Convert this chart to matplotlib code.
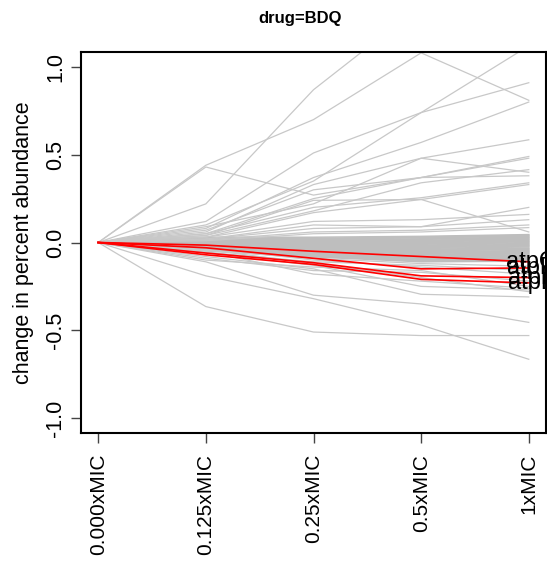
import matplotlib
matplotlib.use("Agg")
import matplotlib.pyplot as plt

plt.rcParams['font.family'] = ['Liberation Sans', 'DejaVu Sans']

categories = ["0.000xMIC", "0.125xMIC", "0.25xMIC", "0.5xMIC", "1xMIC"]
title = "drug=BDQ"
ylabel = "change in percent abundance"
yticks = [-1.0, -0.5, 0.0, 0.5, 1.0]

# grey lines: values at 0.125, 0.25, 0.5, 1 xMIC (all start at 0)
upper_lines = [
    [0.22, 0.87, 1.35, 1.50],
    [0.44, 0.70, 1.08, 0.81],
    [0.43, 0.27, 0.37, 0.38],
    [0.12, 0.51, 0.74, 0.91],
    [0.10, 0.35, 0.74, 1.12],
    [0.08, 0.37, 0.57, 0.80],
    [0.06, 0.33, 0.48, 0.585],
    [0.09, 0.22, 0.48, 0.40],
    [0.05, 0.25, 0.37, 0.49],
    [0.07, 0.30, 0.37, 0.48],
    [0.04, 0.18, 0.34, 0.415],
    [0.05, 0.20, 0.255, 0.34],
    [0.03, 0.17, 0.245, 0.33],
    [0.04, 0.24, 0.245, 0.06],
    [0.02, 0.10, 0.09, 0.20],
    [0.03, 0.12, 0.13, 0.16],
    [0.02, 0.08, 0.09, 0.13],
    [0.015, 0.06, 0.07, 0.10],
    [0.01, 0.05, 0.06, 0.085],
]
lower_lines = [
    [-0.365, -0.51, -0.53, -0.53],
    [-0.19, -0.32, -0.47, -0.665],
    [-0.11, -0.30, -0.35, -0.455],
    [-0.08, -0.15, -0.295, -0.31],
    [-0.06, -0.13, -0.25, -0.27],
    [-0.05, -0.18, -0.22, -0.26],
    [-0.04, -0.12, -0.20, -0.28],
    [-0.09, -0.16, -0.17, -0.22],
    [-0.03, -0.10, -0.14, -0.18],
    [-0.10, -0.14, -0.16, -0.25],
    [-0.045, -0.09, -0.12, -0.135],
    [-0.055, -0.11, -0.13, -0.16],
]
band_lines = [
    [0.030, 0.030, 0.035, 0.045],
    [0.026, 0.024, 0.031, 0.041],
    [0.022, 0.019, 0.027, 0.036],
    [0.019, 0.015, 0.021, 0.031],
    [0.016, 0.012, 0.018, 0.027],
    [0.013, 0.008, 0.012, 0.022],
    [0.010, 0.004, 0.008, 0.018],
    [0.007, 0.001, 0.004, 0.013],
    [0.005, -0.003, -0.001, 0.008],
    [0.002, -0.006, -0.006, 0.004],
    [0.000, -0.010, -0.010, -0.001],
    [-0.003, -0.013, -0.015, -0.006],
    [-0.005, -0.017, -0.020, -0.011],
    [-0.008, -0.020, -0.024, -0.016],
    [-0.010, -0.024, -0.029, -0.020],
    [-0.012, -0.027, -0.034, -0.025],
    [-0.015, -0.030, -0.039, -0.031],
    [-0.017, -0.034, -0.043, -0.036],
    [-0.020, -0.037, -0.048, -0.040],
    [-0.022, -0.041, -0.053, -0.046],
    [-0.024, -0.044, -0.058, -0.050],
    [-0.027, -0.047, -0.062, -0.055],
    [-0.029, -0.051, -0.067, -0.060],
    [-0.031, -0.054, -0.072, -0.065],
    [-0.034, -0.058, -0.077, -0.071],
    [-0.036, -0.061, -0.082, -0.075],
    [-0.038, -0.064, -0.086, -0.080],
    [-0.040, -0.068, -0.091, -0.085],
    [-0.042, -0.071, -0.096, -0.090],
    [-0.044, -0.074, -0.101, -0.096],
    [-0.046, -0.078, -0.106, -0.101],
    [-0.048, -0.082, -0.110, -0.106],
]
red_labels = ["atpG", "atpD", "atpF", "atpB"]
red_lines = [
    [-0.015, -0.05, -0.08, -0.11],
    [-0.03, -0.09, -0.15, -0.145],
    [-0.06, -0.115, -0.19, -0.20],
    [-0.07, -0.125, -0.21, -0.23],
]

fig = plt.figure(figsize=(5.47, 5.63), dpi=100)
ax = fig.add_axes([81/547, 130/563, 465/547, 381/563])
x = list(range(1, len(categories) + 1))

band_grey = "#BEBEBE"
line_grey = "#C8C8C8"
for vals in band_lines:
    ax.plot(x, [0.0] + vals, color=band_grey, lw=1.1)
for vals in upper_lines + lower_lines:
    ax.plot(x, [0.0] + vals, color=line_grey, lw=0.9)
for vals in red_lines:
    ax.plot(x, [0.0] + vals, color="#FF0000", lw=1.2)
for lab, vals in zip(red_labels, red_lines):
    ax.text(x[-1] + 0.03, vals[-1], lab, ha='center', va='center',
            fontsize=17, clip_on=False)

ax.set_xlim(0.84, 5.16)
ax.set_ylim(-1.085, 1.085)
ax.set_xticks(x)
ax.set_xticklabels(categories, rotation=90, fontsize=15)
ax.set_yticks(yticks)
ax.set_yticklabels([f"{v:.1f}" for v in yticks], rotation=90, va='center',
                   fontsize=15.5)
ax.tick_params(axis='x', length=7, width=1, color='#444444', pad=8)
ax.tick_params(axis='y', length=7, width=1, color='#444444', pad=3.5)
ax.set_ylabel(ylabel, fontsize=15.5, labelpad=8)
for s in ax.spines.values():
    s.set_linewidth(1.5)
    s.set_color('black')

fig.text(300/547, 1 - 18/563, title, ha='center', va='center',
         fontsize=12, fontweight='bold')

fig.savefig("out.png", dpi=100)
